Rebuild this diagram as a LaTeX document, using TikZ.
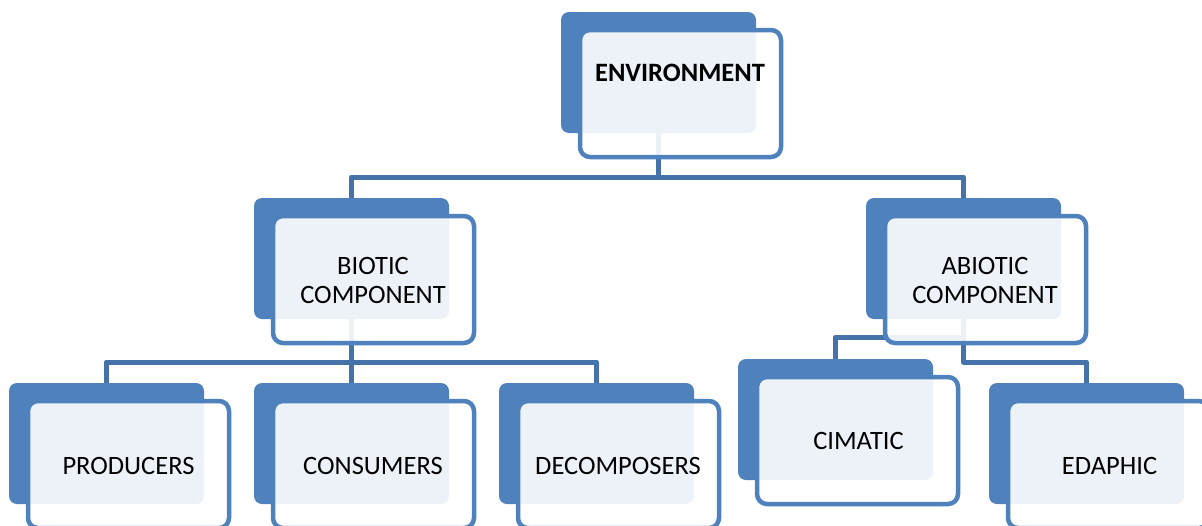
\documentclass[tikz,border=0pt]{standalone}
\usepackage{fontspec}
\setmainfont{Carlito}
\usetikzlibrary{calc}
\definecolor{boxblue}{RGB}{79,129,189}
\definecolor{connblue}{RGB}{69,114,168}
\begin{document}
\begin{tikzpicture}[x=1pt,y=-1pt,
  back/.style={fill=boxblue, draw=none, rounded corners=8pt, minimum width=195pt, minimum height=121pt, inner sep=0pt, outer sep=0pt, anchor=north west},
  front/.style={fill=white, fill opacity=0.9, draw=boxblue, draw opacity=1, line width=4.5pt, rounded corners=10pt, minimum width=201pt, minimum height=127pt, inner sep=0pt, outer sep=0pt, anchor=north west},
  conn/.style={draw=connblue, line width=5pt, line join=round},
  lbl/.style={font=\fontsize{26.5}{29}\selectfont, align=center, text=black, inner sep=0pt}]
\useasboundingbox (0,0) rectangle (1202,525);
\clip (0,0) rectangle (1202,525);
\fill[white] (0,0) rectangle (1202,525);
% level coordinates
\coordinate (m1) at (0,177);
\coordinate (m2) at (0,362);
\coordinate (m3a) at (0,337);
\coordinate (m3b) at (0,362);
% box positions
\path
  (561,12)  coordinate (envp)
  (254,198) coordinate (biop)
  (866,198) coordinate (abiop)
  (9,383)   coordinate (prodp)
  (254,383) coordinate (consp)
  (499,383) coordinate (decop)
  (738,359) coordinate (cimp)
  (989,383) coordinate (edap);
\foreach \n in {env,bio,abio,prod,cons,deco,cim,eda}{
  \path (\n p) node[back, fill=none] (\n b) {};
}
% connectors
\draw[conn] (envb.south) -- (envb.south |- m1) -- (m1 -| biob.north) -- (biob.north);
\draw[conn] (envb.south) -- (envb.south |- m1) -- (m1 -| abiob.north) -- (abiob.north);
\draw[conn] (biob.south) -- (biob.south |- m2) -- (m2 -| prodb.north) -- (prodb.north);
\draw[conn] (biob.south) -- (consb.north);
\draw[conn] (biob.south) -- (biob.south |- m2) -- (m2 -| decob.north) -- (decob.north);
\draw[conn] (abiob.south) -- (abiob.south |- m3a) -- (m3a -| cimb.north) -- (cimb.north);
\draw[conn] (abiob.south) -- (abiob.south |- m3b) -- (m3b -| edab.north) -- (edab.north);
% boxes
\foreach \n in {env,bio,abio,prod,cons,deco,cim,eda}{
  \fill[boxblue, rounded corners=8pt] (\n b.north west) rectangle (\n b.south east);
  \node[front] (\n f) at ($(\n p)+(19,18)$) {};
}
% texts
\node[lbl, font=\fontsize{26.5}{29}\selectfont\bfseries] (envt) at (680,73) {ENVIRONMENT};
\node[lbl] (biot) at (373,280) {BIOTIC\\COMPONENT};
\node[lbl] (abiot) at (985,280) {ABIOTIC\\COMPONENT};
\node[lbl] (prodt) at (128.5,466) {PRODUCERS};
\node[lbl] (const) at (373,466) {CONSUMERS};
\node[lbl] (decot) at (618,466) {DECOMPOSERS};
\node[lbl] (cimt) at (858.5,440.5) {CIMATIC};
\node[lbl] (edat) at (1109.5,465.5) {EDAPHIC};
\end{tikzpicture}
\end{document}
